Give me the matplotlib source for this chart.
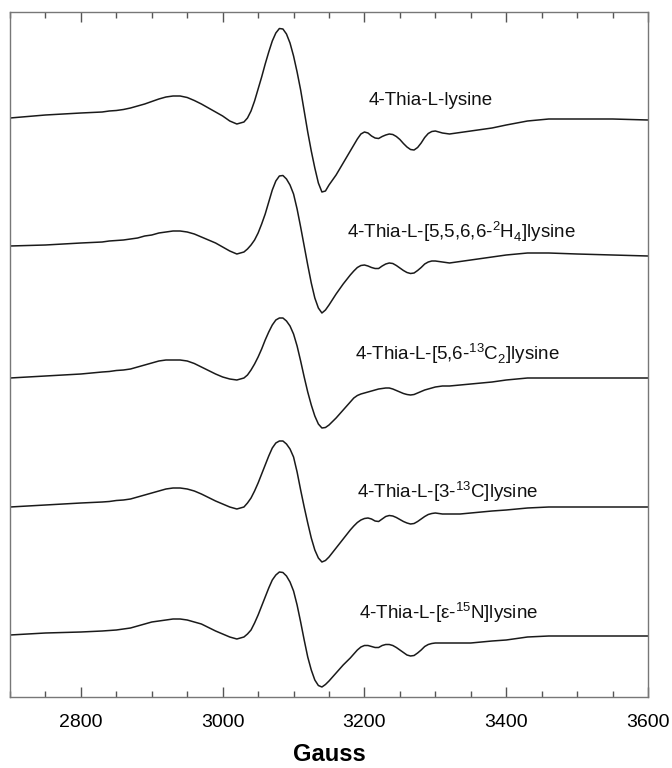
import numpy as np
from matplotlib import pyplot as plt
from matplotlib.ticker import MultipleLocator

plt.rcParams['font.family'] = ['Liberation Sans', 'DejaVu Sans']
plt.rcParams['mathtext.fontset'] = 'custom'
plt.rcParams['mathtext.rm'] = 'Liberation Sans'

# Field axis (Gauss), shared by all spectra
gauss = [2700, 2750, 2800,
         2830, 2840, 2850, 2860, 2870, 2880, 2890, 2900, 2910, 2920,
         2930, 2940, 2950, 2960, 2970, 2980, 2990, 3000, 3010, 3020,
         3030, 3035, 3040, 3045, 3050, 3055, 3060, 3065, 3070, 3075,
         3080, 3085, 3090, 3095, 3100, 3105, 3110, 3115, 3120, 3125,
         3130, 3135, 3140, 3145, 3150, 3155, 3160, 3165, 3170, 3175,
         3180, 3185, 3190, 3195, 3200, 3205, 3210, 3215, 3220, 3225,
         3230, 3235, 3240, 3245, 3250, 3255, 3260, 3265, 3270, 3275,
         3280, 3285, 3290, 3295, 3300, 3305, 3310,
         3320, 3335, 3350, 3380, 3400, 3430, 3460, 3500, 3550, 3600]

# EPR signal (arbitrary units)
thia_lys = [0, 3, 5,
            6, 7, 7.5, 8.5, 10, 12, 14, 16.5, 19, 21,
            22, 22, 20.5, 17.5, 14, 10, 6, 2, -3, -6,
            -4, 0, 7, 17, 29, 41, 54, 66, 77, 85,
            89.5, 89, 84, 75, 62, 46, 28, 7, -14, -33,
            -50, -65, -74, -73, -67, -62, -57, -51, -45, -39,
            -33, -27, -21, -16, -14, -15, -18, -20, -20.5, -18.5,
            -17, -16, -16.5, -18.5, -21.5, -25.5, -29, -31.5, -32, -29.5,
            -25, -19.5, -15.5, -13.5, -13, -14, -15,
            -16, -14.5, -13, -10, -7, -3, -1, -1, -1, -2]
thia_2h4 = [0, 1, 3,
            4, 5, 5.5, 6, 7, 8, 10, 11, 13, 14,
            15, 15, 14, 12, 9, 6, 3, -1, -5, -8,
            -6, -3, 1, 6, 13, 22, 32, 44, 56, 65,
            70, 70.5, 67, 61, 52, 37, 19, 0, -19, -37,
            -52, -62, -67, -64, -59, -53.5, -48, -43, -38, -33.5,
            -29, -25, -21.5, -19.5, -19, -20, -21.5, -22.5, -22.5, -20,
            -18, -17, -17.5, -19.5, -22, -24.5, -26.5, -27.5, -27, -24.5,
            -21.5, -18, -16, -15, -15, -15.5, -16,
            -17, -15.5, -14, -11, -9, -7, -7, -8, -9, -10]
thia_13c2 = [0, 2, 4,
             6, 6.5, 7.5, 8, 9, 11, 13, 15, 17, 18,
             18, 18, 17, 14.5, 11, 7.5, 4, 1, -1, -2,
             0, 3, 8, 14, 21, 29, 38, 46, 53, 58,
             60, 60, 57, 52, 44, 32, 17, 1, -14, -27,
             -38, -46, -50, -49.5, -47, -43.5, -40, -36, -32, -28,
             -24, -20, -17.5, -16, -15, -14, -13, -12, -11, -10.5,
             -10, -10, -11, -12.5, -14, -15.5, -16.5, -17, -16.5, -15,
             -13.5, -12, -11, -10, -9, -8.5, -8,
             -8, -7, -6, -4, -2, 0, 0, 0, 0, 0]
thia_3_13c = [0, 2, 4,
              5, 5.5, 6.5, 7, 8, 10, 12, 14, 16, 18,
              19, 19, 18, 16, 13, 9.5, 6, 3, 0, -2,
              0, 4, 9, 16, 24, 33, 42, 51, 59, 64,
              66, 66, 63, 58, 50, 35, 17, 0, -16, -31,
              -43, -51, -55, -53.5, -50, -45.5, -41, -36.5, -32, -27.5,
              -23, -19, -15.5, -13, -11.5, -11, -12, -14, -14.5, -12,
              -9.5, -8.5, -9, -10.5, -12.5, -14.5, -16, -17, -16.5, -14.5,
              -12, -9.5, -7.5, -6.5, -6, -6.5, -7,
              -7, -7, -6, -4, -3, -1, 0, 0, 0, 0]
thia_15n = [0, 2, 3,
            4, 4.5, 5, 6, 7, 9, 11, 13, 14, 15,
            16, 16, 15, 13, 11, 7.5, 4, 1, -2, -4,
            -2, 1, 5, 12, 20, 29, 38, 47, 55, 60,
            63, 62.5, 59, 53, 44, 30, 13, -5, -22, -35,
            -45, -50.5, -52, -49.5, -46, -42, -38, -34, -30, -26.5,
            -23, -19, -15, -12, -10.5, -10.5, -11.5, -12.5, -12.5, -10.5,
            -9.5, -9.5, -10.5, -12.5, -15, -17.5, -20, -21, -20.5, -18,
            -15, -11.5, -9.5, -8.5, -8, -8, -8,
            -8, -8, -8, -6, -5, -2, -1, -1, -1, -1]

labels = ['4-Thia-L-lysine',
          r'4-Thia-L-[5,5,6,6-$^{2}$H$_{4}$]lysine',
          r'4-Thia-L-[5,6-$^{13}$C$_{2}$]lysine',
          r'4-Thia-L-[3-$^{13}$C]lysine',
          r'4-Thia-L-[ε-$^{15}$N]lysine']

spectra = [thia_lys, thia_2h4, thia_13c2, thia_3_13c, thia_15n]
offsets = [579, 451, 319, 190, 62]
label_pos = [(3206, 597), (3176, 465), (3186, 343), (3189, 205), (3193, 84)]

fig = plt.figure(figsize=(6.72, 7.68), dpi=100)
ax = fig.add_axes([10 / 672, 71 / 768, 638 / 672, 685 / 768])

for sig, off, lab, (lx, ly) in zip(spectra, offsets, labels, label_pos):
    ax.plot(gauss, np.array(sig) + off, color='#1a1a1a', lw=1.1)
    ax.text(lx, ly, lab, fontsize=13.5, ha='left', va='center', color='#111')

ax.set_xlim(2700, 3600)
ax.set_ylim(0, 685)
ax.set_yticks([])
ax.xaxis.set_major_locator(MultipleLocator(200))
ax.xaxis.set_minor_locator(MultipleLocator(50))
ax.tick_params(axis='x', which='both', direction='in', top=True, bottom=True,
               color='#555', labelsize=14, pad=12)
ax.tick_params(axis='x', which='major', length=7, width=1)
ax.tick_params(axis='x', which='minor', length=4, width=1)
for s in ax.spines.values():
    s.set_color('#777')
    s.set_linewidth(1)
ax.set_xlabel('Gauss', fontsize=17, fontweight='bold', labelpad=9)

fig.savefig('out.png', dpi=100)
